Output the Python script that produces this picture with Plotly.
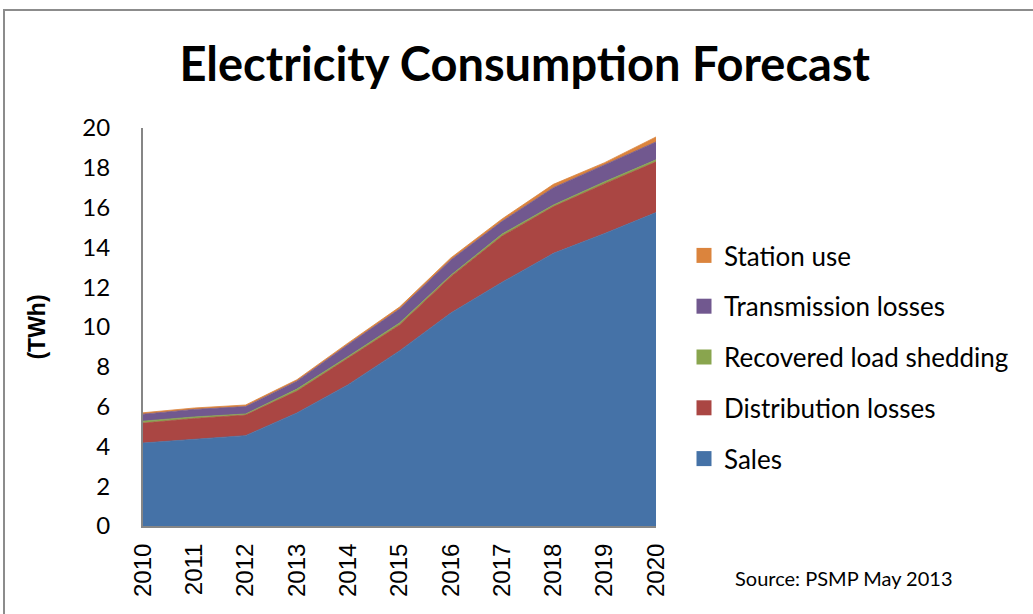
import plotly.graph_objects as go

years = [2010, 2011, 2012, 2013, 2014, 2015, 2016, 2017, 2018, 2019, 2020]
sales = [4.17, 4.35, 4.54, 5.68, 7.10, 8.80, 10.70, 12.25, 13.70, 14.70, 15.75]
distribution = [1.00, 1.05, 1.04, 1.10, 1.34, 1.30, 1.83, 2.32, 2.35, 2.50, 2.55]
recovered = [0.10, 0.08, 0.05, 0.10, 0.08, 0.10, 0.07, 0.10, 0.08, 0.10, 0.10]
transmission = [0.35, 0.38, 0.37, 0.40, 0.60, 0.70, 0.77, 0.64, 0.87, 0.84, 0.90]
station = [0.07, 0.07, 0.08, 0.07, 0.08, 0.10, 0.10, 0.12, 0.17, 0.12, 0.25]

series = [
    ("Sales", sales, "#4572A7"),
    ("Distribution losses", distribution, "#AA4643"),
    ("Recovered load shedding", recovered, "#89A54E"),
    ("Transmission losses", transmission, "#71588F"),
    ("Station use", station, "#DB843D"),
]

fig = go.Figure()
for i, (name, vals, col) in enumerate(series):
    fig.add_trace(go.Scatter(
        x=years, y=vals, name=name, stackgroup="one", mode="lines",
        line=dict(color=col, width=0.8), fillcolor=col,
        showlegend=False,
    ))
# legend entries (square swatches)
for i, (name, vals, col) in enumerate(series):
    fig.add_trace(go.Scatter(
        x=[None], y=[None], name=name, mode="markers",
        marker=dict(symbol="square", size=15, color=col),
        legendgroup=name, legendrank=100 - i, showlegend=True,
    ))

L, R, T, B = 143, 656, 128, 526
W, H = 1033, 614

def px(x):
    return (x - L) / (R - L)

def py(y):
    return (B - y) / (B - T)

fig.update_layout(
    width=W, height=H,
    margin=dict(l=L, r=W - R, t=T, b=H - B),
    paper_bgcolor="white", plot_bgcolor="white",
    showlegend=True,
    legend=dict(
        x=px(684), y=py(232), xanchor="left", yanchor="top",
        font=dict(family="Lato, Open Sans, sans-serif", size=26, color="#000"),
        tracegroupgap=14, itemwidth=30, bgcolor="rgba(0,0,0,0)",
        traceorder="grouped",
    ),
    title=dict(
        text="<b>Electricity Consumption Forecast</b>",
        x=0.508, xanchor="center", y=1 - 65 / H, yanchor="middle",
        font=dict(family="Lato, Open Sans, sans-serif", size=47, color="#000"),
    ),
    xaxis=dict(
        range=[2010, 2020], tickvals=years, ticktext=[str(y) for y in years],
        tickangle=-90, showgrid=False, zeroline=False,
        showline=True, linecolor="#868686", linewidth=2,
        ticks="", ticklabelstandoff=6,
        tickfont=dict(family="Liberation Sans, Arial, sans-serif", size=24, color="#000"),
    ),
    yaxis=dict(
        range=[0, 20], tickvals=list(range(0, 21, 2)),
        showgrid=False, zeroline=False,
        showline=True, linecolor="#868686", linewidth=2,
        ticks="", ticklabelstandoff=26,
        tickfont=dict(family="Lato, Open Sans, sans-serif", size=24, color="#000"),
        title=dict(text="<b>(TWh)</b>", standoff=30,
                   font=dict(family="Liberation Sans, Arial, sans-serif", size=23, color="#000")),
    ),
    shapes=[dict(
        type="rect", xref="paper", yref="paper",
        x0=px(4), x1=px(1040), y0=py(640), y1=py(10),
        line=dict(color="#8c8c8c", width=2), fillcolor="rgba(0,0,0,0)", layer="below",
    )],
    annotations=[dict(
        text="Source: PSMP May 2013", xref="paper", yref="paper",
        x=px(733), y=py(578), xanchor="left", yanchor="middle", showarrow=False,
        font=dict(family="Lato, Open Sans, sans-serif", size=20, color="#000"),
    )],
)

fig.write_html("out.html")
